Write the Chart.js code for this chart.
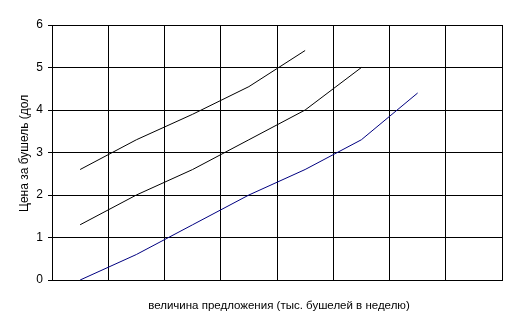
<!DOCTYPE html>
<html>
<head>
<meta charset="utf-8">
<script src="https://cdn.jsdelivr.net/npm/chart.js@4/dist/chart.umd.min.js"></script>
<style>
  html, body { margin: 0; padding: 0; background: #fff; }
  #wrap { width: 517px; height: 325px; }
</style>
</head>
<body>
<div id="wrap"><canvas id="chart" width="517" height="325"></canvas></div>
<script>
const categories = ['1', '2', '3', '4', '5', '6', '7', '8'];
const supplyTop = [2.6, 3.3, 3.9, 4.55, 5.4, null, null, null];
const supplyMid = [1.3, 2.0, 2.6, 3.3, 4.0, 5.0, null, null];
const supplyLow = [0, 0.6, 1.3, 2.0, 2.6, 3.3, 4.4, null];
const yTicks = [0, 1, 2, 3, 4, 5, 6];

const yTitle = 'Цена за бушель (дол';
const xTitle = 'величина предложения (тыс. бушелей в неделю)';

const FONT = '"Liberation Sans", Arial, sans-serif';

// axis titles drawn by hand, the y one is cut off like in the original
const titles = {
  id: 'titles',
  afterDraw(chart) {
    const ctx = chart.ctx;
    ctx.save();
    ctx.fillStyle = '#000';
    ctx.font = '11.5px ' + FONT;
    ctx.textAlign = 'center';
    ctx.textBaseline = 'middle';
    ctx.fillText(xTitle, 279, 306);

    ctx.font = '12px ' + FONT;
    ctx.translate(25, 212);
    ctx.rotate(-Math.PI / 2);
    ctx.textAlign = 'left';
    ctx.fillText(yTitle, 0, 0);
    ctx.restore();
  }
};

const line = (data, color) => ({
  data: data,
  borderColor: color,
  borderWidth: 1,
  pointRadius: 0,
  tension: 0,
  fill: false
});

new Chart(document.getElementById('chart'), {
  type: 'line',
  data: {
    labels: categories,
    datasets: [
      line(supplyTop, '#000000'),
      line(supplyMid, '#000000'),
      line(supplyLow, '#000080')
    ]
  },
  options: {
    responsive: false,
    animation: false,
    layout: { padding: { left: 0, right: 15, top: 25, bottom: 0 } },
    plugins: {
      legend: { display: false },
      tooltip: { enabled: false }
    },
    scales: {
      x: {
        type: 'category',
        offset: true,
        grid: { offset: true, color: '#000', lineWidth: 1, drawTicks: false },
        border: { color: '#000', width: 1 },
        ticks: { display: false },
        afterFit: s => { s.height = 45; }
      },
      y: {
        min: 0,
        max: 6,
        afterBuildTicks: s => { s.ticks = yTicks.map(v => ({ value: v })); },
        grid: { color: '#000', lineWidth: 1, tickLength: 4 },
        border: { color: '#000', width: 1 },
        ticks: { color: '#000', padding: 5, font: { family: FONT, size: 12 } },
        afterFit: s => { s.width = 52; }
      }
    }
  },
  plugins: [titles]
});
</script>
</body>
</html>
